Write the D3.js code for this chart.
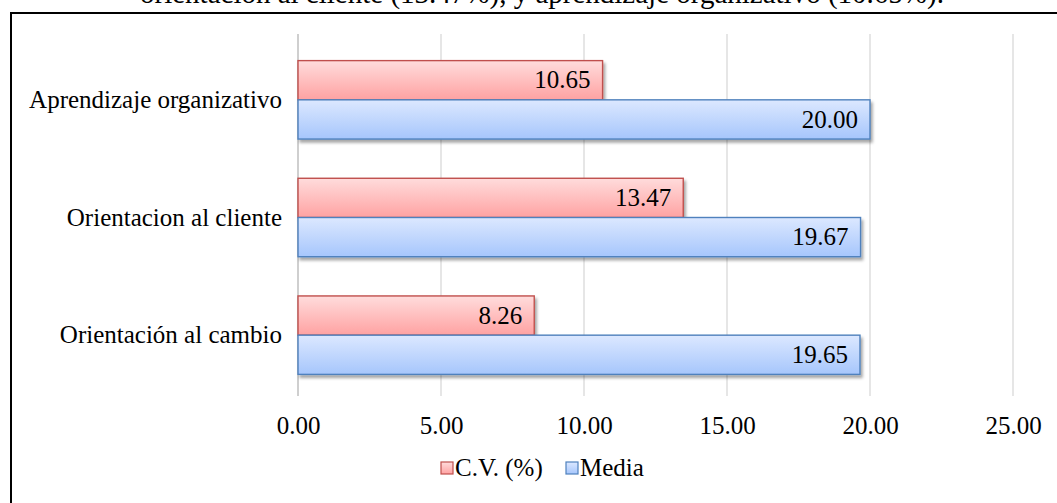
<!DOCTYPE html>
<html>
<head>
<meta charset="utf-8">
<script src="https://cdn.jsdelivr.net/npm/d3@7"></script>
<style>
  html, body { margin: 0; padding: 0; background: #fff; }
  svg { display: block; }
  svg text { font-family: "Liberation Serif", "Times New Roman", serif; }
</style>
</head>
<body>
<svg id="chart" width="1057" height="503"></svg>
<script>
// Indicadores evaluados
const categories = ["Aprendizaje organizativo", "Orientacion al cliente", "Orientación al cambio"];
const seriesNames = ["C.V. (%)", "Media"];
const cvValues = [10.65, 13.47, 8.26];
const mediaValues = [20.00, 19.67, 19.65];
const xTicks = [0, 5, 10, 15, 20, 25];
const captionText = "orientación al cliente (13.47%), y aprendizaje organizativo (10.65%).";

const svg = d3.select("#chart");
const W = 1057, H = 503;
const FS = 25;

// Pie de texto previo (cortado por el borde superior)
svg.append("text")
  .attr("x", 140).attr("y", 3)
  .attr("font-size", 29)
  .attr("fill", "#000")
  .text(captionText);

// Marco del gráfico
svg.append("rect")
  .attr("x", 11).attr("y", 13)
  .attr("width", W + 20).attr("height", H + 20)
  .attr("fill", "#fff")
  .attr("stroke", "#000").attr("stroke-width", 2);

const defs = svg.append("defs");
function grad(id, top, bottom) {
  const g = defs.append("linearGradient").attr("id", id)
    .attr("x1", 0).attr("y1", 0).attr("x2", 0).attr("y2", 1);
  g.append("stop").attr("offset", "0%").attr("stop-color", top);
  g.append("stop").attr("offset", "100%").attr("stop-color", bottom);
}
grad("gRed", "#ffdcdc", "#ffa2a2");
grad("gBlue", "#dce8ff", "#a6c6fc");
const f = defs.append("filter").attr("id", "shadow")
  .attr("x", "-5%").attr("y", "-20%").attr("width", "115%").attr("height", "150%");
f.append("feDropShadow").attr("dx", 2).attr("dy", 3).attr("stdDeviation", 1.6)
  .attr("flood-color", "#000").attr("flood-opacity", 0.35);

const plot = { left: 298, right: 1013, top: 41, bottom: 394 };

const x = d3.scaleLinear().domain([0, 25]).range([plot.left, plot.right]);
const y = d3.scaleBand().domain(categories).range([plot.top, plot.bottom]).paddingInner(1/3).paddingOuter(1/6);
const ySub = d3.scaleBand().domain(seriesNames).range([0, y.bandwidth()]);

// Líneas de cuadrícula verticales
svg.append("g").selectAll("line").data(xTicks.slice(1)).join("line")
  .attr("x1", d => x(d)).attr("x2", d => x(d))
  .attr("y1", plot.top - 7).attr("y2", plot.bottom + 2)
  .attr("stroke", "#d9d9d9").attr("stroke-width", 1.3);

// Eje vertical
svg.append("line")
  .attr("x1", x(0)).attr("x2", x(0))
  .attr("y1", plot.top - 7).attr("y2", plot.bottom + 2)
  .attr("stroke", "#bfbfbf").attr("stroke-width", 1.5);

// Etiquetas del eje X
const xAxis = d3.axisBottom(x).tickValues(xTicks).tickFormat(d3.format(".2f")).tickSize(0).tickPadding(0);
const gx = svg.append("g").attr("transform", `translate(0,${plot.bottom + 40})`).call(xAxis);
gx.attr("font-family", null).attr("font-size", null);
gx.select(".domain").remove();
gx.selectAll("text").attr("font-size", FS).attr("fill", "#000").attr("dy", 0);

// Etiquetas de categorías
const yAxis = d3.axisLeft(y).tickSize(0).tickPadding(16);
const gy = svg.append("g").attr("transform", `translate(${plot.left},0)`).call(yAxis);
gy.attr("font-family", null).attr("font-size", null);
gy.select(".domain").remove();
gy.selectAll("text").attr("font-size", FS).attr("fill", "#000").attr("dy", "0.33em");

const series = [
  { name: seriesNames[0], values: cvValues, fill: "url(#gRed)", stroke: "#c0504d" },
  { name: seriesNames[1], values: mediaValues, fill: "url(#gBlue)", stroke: "#4f81bd" }
];

// Barras
series.forEach(s => {
  const g = svg.append("g");
  const rows = categories.map((c, i) => ({ c, v: s.values[i] }));
  g.selectAll("rect").data(rows).join("rect")
    .attr("x", x(0))
    .attr("y", d => y(d.c) + ySub(s.name))
    .attr("width", d => x(d.v) - x(0))
    .attr("height", ySub.bandwidth())
    .attr("fill", s.fill)
    .attr("stroke", s.stroke).attr("stroke-width", 1.4)
    .attr("filter", "url(#shadow)");
  g.selectAll("text").data(rows).join("text")
    .attr("x", d => x(d.v) - 12)
    .attr("y", d => y(d.c) + ySub(s.name) + ySub.bandwidth() / 2)
    .attr("dy", "0.33em")
    .attr("text-anchor", "end")
    .attr("font-size", FS)
    .attr("fill", "#000")
    .text(d => d3.format(".2f")(d.v));
});

// Leyenda
const legend = svg.append("g");
const legendItems = [
  { name: series[0].name, fill: "url(#gRed)", stroke: series[0].stroke, x: 441 },
  { name: series[1].name, fill: "url(#gBlue)", stroke: series[1].stroke, x: 566 }
];
legendItems.forEach(it => {
  legend.append("rect").attr("x", it.x).attr("y", 462).attr("width", 12).attr("height", 12)
    .attr("fill", it.fill).attr("stroke", it.stroke).attr("stroke-width", 1.2);
  legend.append("text").attr("x", it.x + 14).attr("y", 468).attr("dy", "0.33em")
    .attr("font-size", FS).attr("fill", "#000").text(it.name);
});
</script>
</body>
</html>
